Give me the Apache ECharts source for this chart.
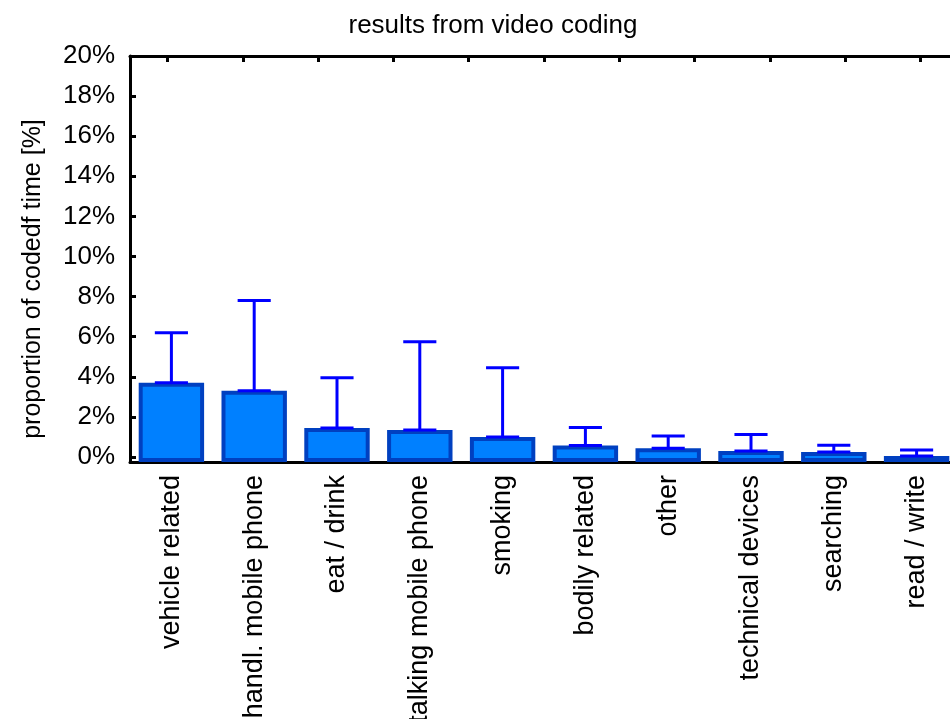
<!DOCTYPE html>
<html>
<head>
<meta charset="utf-8">
<script src="https://cdn.jsdelivr.net/npm/echarts@6/dist/echarts.min.js"></script>
<style>
  html, body { margin: 0; padding: 0; background: #fff; }
  #chart { width: 950px; height: 719px; }
</style>
</head>
<body>
<div id="chart"></div>
<script>
// Activity categories from the video coding
const categories = [
  'vehicle related', 'handl. mobile phone', 'eat / drink', 'talking mobile phone',
  'smoking', 'bodily related', 'other', 'technical devices', 'searching', 'read / write'
];
// Mean proportion of coded time [%]
const meanValues = [3.7, 3.3, 1.45, 1.35, 1.0, 0.57, 0.43, 0.3, 0.25, 0.05];
// Upper end of the error whisker [%]
const upperValues = [6.2, 7.8, 3.95, 5.75, 4.45, 1.47, 1.05, 1.12, 0.58, 0.35];
// Value-axis tick positions [%]
const yTicks = [0, 2, 4, 6, 8, 10, 12, 14, 16, 18, 20];
// Top frame axis tick slots (no labels)
const topTicks = ['', '', '', '', '', '', '', '', '', '', ''];

const FONT = '"Liberation Sans", Arial, sans-serif';
const chart = echarts.init(document.getElementById('chart'), null, { renderer: 'canvas' });

const errorData = categories.map((c, i) => [i, meanValues[i], upperValues[i]]);

chart.setOption({
  animation: false,
  backgroundColor: '#ffffff',
  title: {
    text: 'results from video coding',
    left: 488,
    textAlign: 'center',
    top: 8,
    textStyle: { fontFamily: FONT, fontSize: 26, fontWeight: 'normal', color: '#000' }
  },
  grid: { left: 130, right: -8, top: 56, bottom: 257, containLabel: false, outerBoundsMode: 'none' },
  xAxis: [
    {
      type: 'category',
      data: categories,
      position: 'bottom',
      axisLine: { onZero: false, lineStyle: { color: '#000', width: 3 } },
      axisTick: { show: true, inside: true, length: 6, interval: 0, alignWithLabel: true, lineStyle: { color: '#000', width: 3 } },
      axisLabel: { rotate: 90, interval: 0, fontFamily: FONT, fontSize: 27, color: '#000', margin: 13 },
      splitLine: { show: false }
    },
    {
      type: 'category',
      data: topTicks,
      position: 'top',
      axisLine: { onZero: false, lineStyle: { color: '#000', width: 3 } },
      axisTick: { show: true, inside: true, length: 6, interval: 0, alignWithLabel: true, lineStyle: { color: '#000', width: 3 } },
      axisLabel: { show: false },
      splitLine: { show: false }
    }
  ],
  yAxis: {
    type: 'value',
    min: -0.25,
    max: 20,
    startValue: -0.25,
    name: 'proportion of codedf time [%]',
    nameLocation: 'middle',
    nameGap: 84,
    nameTextStyle: { fontFamily: FONT, fontSize: 25, color: '#000', padding: [0, 40, 0, 0] },
    axisLine: { show: true, onZero: false, lineStyle: { color: '#000', width: 3 } },
    axisTick: { show: true, inside: true, length: 6, customValues: yTicks, lineStyle: { color: '#000', width: 3 } },
    axisLabel: {
      customValues: yTicks,
      formatter: v => v + '%',
      fontFamily: FONT, fontSize: 26, color: '#000', margin: 15
    },
    splitLine: { show: false }
  },
  series: [
    {
      type: 'bar',
      xAxisIndex: 0,
      data: meanValues,
      barWidth: '79%',
      itemStyle: { color: '#0080ff', borderColor: '#0040c0', borderWidth: 4 }
    },
    {
      type: 'custom',
      xAxisIndex: 0,
      data: errorData,
      encode: { x: 0, y: [1, 2] },
      z: 5,
      renderItem: function (params, api) {
        const idx = api.value(0);
        const lo = api.coord([idx, api.value(1)]);
        const hi = api.coord([idx, api.value(2)]);
        const half = api.size([1, 0])[0] * 0.2;
        const st = { stroke: '#0000ff', lineWidth: 3 };
        return {
          type: 'group',
          children: [
            { type: 'line', shape: { x1: lo[0], y1: lo[1], x2: hi[0], y2: hi[1] }, style: st },
            { type: 'line', shape: { x1: lo[0] - half, y1: lo[1], x2: lo[0] + half, y2: lo[1] }, style: st },
            { type: 'line', shape: { x1: hi[0] - half, y1: hi[1], x2: hi[0] + half, y2: hi[1] }, style: st }
          ]
        };
      }
    }
  ]
});
</script>
</body>
</html>
